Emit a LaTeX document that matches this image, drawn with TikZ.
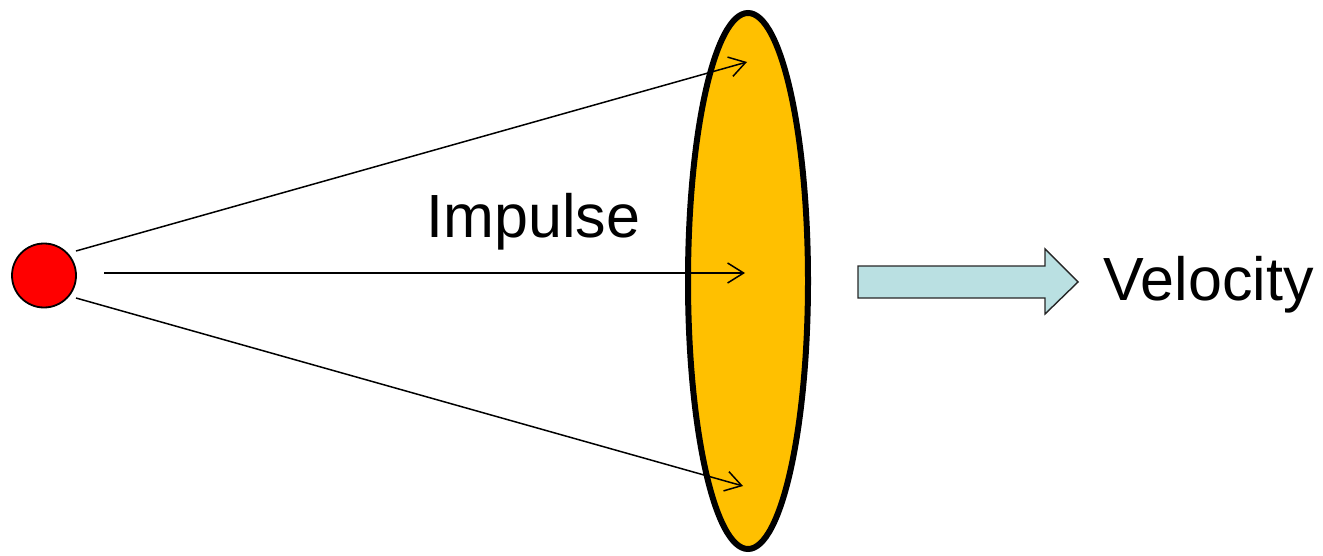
\documentclass[tikz,border=0pt]{standalone}
\usepackage{fontspec}
\setmainfont{Liberation Sans}
\usepackage{xcolor}
\usepackage{tikz}
\usetikzlibrary{arrows.meta,positioning,shapes.geometric}
\definecolor{BallRed}{HTML}{FF0000}
\definecolor{SailAmber}{HTML}{FFC000}
\definecolor{PaleTeal}{HTML}{BAE0E2}
\definecolor{Ink}{HTML}{000000}

\begin{document}
\begin{tikzpicture}[x=.5pt,y=-.5pt]
  \path[use as bounding box] (0,0) rectangle (1323,556);
  \tikzset{
    imBall/.style={
      circle, draw=Ink, fill=BallRed, line width=.9pt,
      minimum size=32pt, inner sep=0pt
    },
    imSail/.style={
      ellipse, draw=Ink, fill=SailAmber, line width=3pt,
      minimum width=60pt, minimum height=268pt, inner sep=0pt
    },
    imRay/.style={
      -{Straight Barb[length=8pt,width=10pt]}, draw=Ink,
      line width=.75pt
    },
    imBlock/.style={
      draw=Ink!85, fill=PaleTeal, line width=.7pt, line join=miter
    },
    imLabel/.style={
      anchor=base west, inner sep=0pt, text=Ink,
      font=\fontsize{30.5pt}{36pt}\selectfont
    }
  }

  \node[imSail] (sail) at (748,281) {};
  \node[imBall] (ball) at (44,275.5) {};

  % start points sit a little off the ball, tips land inside the sail
  \coordinate (upStart) at (76,251);
  \coordinate (midStart) at (104,273);
  \coordinate (lowStart) at (76,298);
  \coordinate (upTip) at (747,62);
  \coordinate (midTip) at (745,273);
  \coordinate (lowTip) at (743,486);

  \draw[imRay] (upStart) -- (upTip);
  \draw[imRay] (midStart) -- (midTip);
  \draw[imRay] (lowStart) -- (lowTip);

  \node[imLabel] (impulse) at (426,237) {Impulse};

  % block arrow towards the velocity label
  \draw[imBlock] (858,266) -- (1045,266) -- (1045,249) -- (1078,282)
    -- (1045,314) -- (1045,298) -- (858,298) -- cycle;
  \node[imLabel] (velocity) at (1103,300) {Velocity};
\end{tikzpicture}
\end{document}
